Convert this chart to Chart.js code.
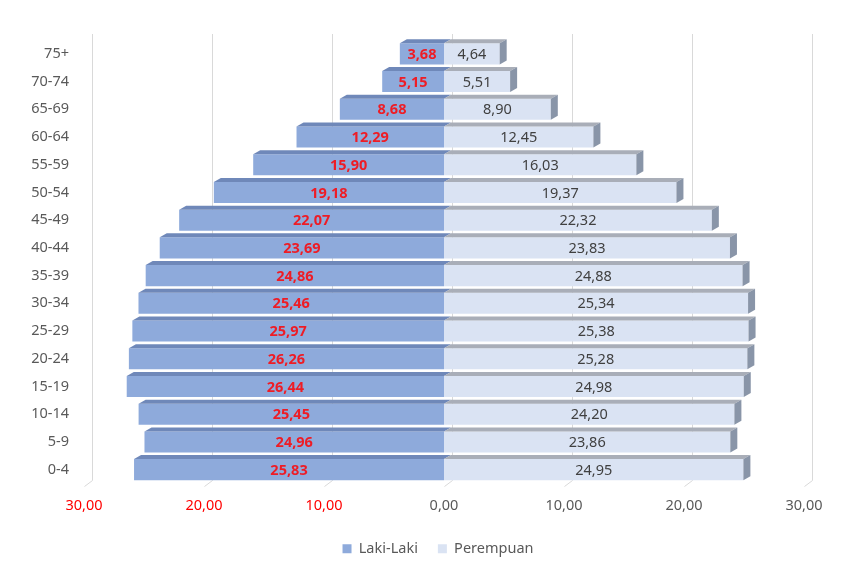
<!DOCTYPE html>
<html>
<head>
<meta charset="utf-8">
<script src="https://cdn.jsdelivr.net/npm/chart.js@4"></script>
<style>
  html, body { margin: 0; padding: 0; background: #fff; }
  #wrap { width: 851px; height: 570px; }
</style>
</head>
<body>
<div id="wrap"><canvas id="pyramid"></canvas></div>
<script>
// Piramida penduduk
const ageGroups = ['75+', '70-74', '65-69', '60-64', '55-59', '50-54', '45-49', '40-44',
                   '35-39', '30-34', '25-29', '20-24', '15-19', '10-14', '5-9', '0-4'];
const lakiLaki = [3.68, 5.15, 8.68, 12.29, 15.90, 19.18, 22.07, 23.69,
                  24.86, 25.46, 25.97, 26.26, 26.44, 25.45, 24.96, 25.83];
const perempuan = [4.64, 5.51, 8.90, 12.45, 16.03, 19.37, 22.32, 23.83,
                   24.88, 25.34, 25.38, 25.28, 24.98, 24.20, 23.86, 24.95];
const xTicks = [-30, -20, -10, 0, 10, 20, 30];

const fmt = v => Math.abs(v).toFixed(2).replace('.', ',');
const FONT = '"Noto Sans", "DejaVu Sans", sans-serif';
const FS = 14.5;
const DX = 7, DY = 4;

// back-wall gridlines + floor strokes
const gridPlugin = {
    id: 'grid3d',
    afterLayout(chart) {
        // legend sits centred under the whole picture, not the plot
        if (chart.legend) { chart.legend.left += 36; chart.legend.right += 36; }
    },
    beforeDatasetsDraw(chart) {
        const { ctx, chartArea, scales } = chart;
        ctx.save();
        ctx.strokeStyle = '#d9d9d9';
        ctx.lineWidth = 1;
        xTicks.forEach(t => {
            const px = Math.round(scales.x.getPixelForValue(t)) + 0.5;
            ctx.beginPath();
            ctx.moveTo(px + DX + 1, chartArea.top - 6);
            ctx.lineTo(px + DX + 1, chartArea.bottom - 3);
            ctx.lineTo(px, chartArea.bottom + 3);
            ctx.stroke();
        });
        ctx.restore();
    }
};

// 3D faces for bars + value labels
const barPlugin = {
    id: 'bars3d',
    afterDatasetsDraw(chart) {
        const { ctx } = chart;
        ctx.save();
        chart.data.datasets.forEach((ds, di) => {
            const meta = chart.getDatasetMeta(di);
            meta.data.forEach(el => {
                const p = el.getProps(['x', 'y', 'base', 'height'], true);
                const left = Math.min(p.x, p.base), right = Math.max(p.x, p.base);
                const top = p.y - p.height / 2, bottom = p.y + p.height / 2;
                // top face
                ctx.fillStyle = di === 0 ? '#6f88b9' : '#a9aeb8';
                ctx.beginPath();
                ctx.moveTo(left, top);
                ctx.lineTo(right, top);
                ctx.lineTo(right + DX, top - DY);
                ctx.lineTo(left + DX, top - DY);
                ctx.closePath();
                ctx.fill();
                if (di === 1) {
                    ctx.fillStyle = '#8995a8';
                    ctx.beginPath();
                    ctx.moveTo(right, top);
                    ctx.lineTo(right + DX, top - DY);
                    ctx.lineTo(right + DX, bottom - DY);
                    ctx.lineTo(right, bottom);
                    ctx.closePath();
                    ctx.fill();
                }
            });
        });
        ctx.textAlign = 'center';
        ctx.textBaseline = 'middle';
        chart.data.datasets.forEach((ds, di) => {
            const meta = chart.getDatasetMeta(di);
            ctx.font = (di === 0 ? 'bold ' : '') + FS + 'px ' + FONT;
            ctx.fillStyle = di === 0 ? '#ee1c25' : '#404040';
            meta.data.forEach((el, i) => {
                const p = el.getProps(['x', 'y', 'base'], true);
                ctx.fillText(fmt(ds.data[i]), (p.x + p.base) / 2, p.y + 1);
            });
        });
        ctx.restore();
    }
};

new Chart(document.getElementById('pyramid'), {
    type: 'bar',
    data: {
        labels: ageGroups,
        datasets: [
            {
                label: 'Laki-Laki',
                data: lakiLaki.map(v => -v),
                backgroundColor: '#8eaadb',
                barPercentage: 0.76,
                categoryPercentage: 1
            },
            {
                label: 'Perempuan',
                data: perempuan,
                backgroundColor: '#dae3f3',
                barPercentage: 0.76,
                categoryPercentage: 1
            }
        ]
    },
    options: {
        indexAxis: 'y',
        responsive: true,
        maintainAspectRatio: false,
        animation: false,
        layout: { padding: { top: 40, right: 47, left: 0, bottom: 4 } },
        plugins: {
            legend: {
                position: 'bottom',
                labels: {
                    boxWidth: 9,
                    boxHeight: 9,
                    padding: 20,
                    color: '#595959',
                    font: { family: FONT, size: FS }
                }
            },
            tooltip: { enabled: false }
        },
        scales: {
            x: {
                stacked: true,
                min: -30,
                max: 30,
                afterBuildTicks: scale => { scale.ticks = xTicks.map(v => ({ value: v })); },
                grid: { display: false, drawTicks: false },
                border: { display: false },
                ticks: {
                    padding: 14,
                    font: { family: FONT, size: FS },
                    color: ctx => ctx.tick && ctx.tick.value < 0 ? '#ff0000' : '#595959',
                    callback: v => fmt(v)
                },
                afterFit: scale => { scale.height = 38; }
            },
            y: {
                stacked: true,
                grid: { display: false, drawTicks: false },
                border: { display: false },
                ticks: {
                    padding: 15,
                    font: { family: FONT, size: FS },
                    color: '#595959'
                },
                afterFit: scale => { scale.width = 84; }
            }
        }
    },
    plugins: [gridPlugin, barPlugin]
});
</script>
</body>
</html>
